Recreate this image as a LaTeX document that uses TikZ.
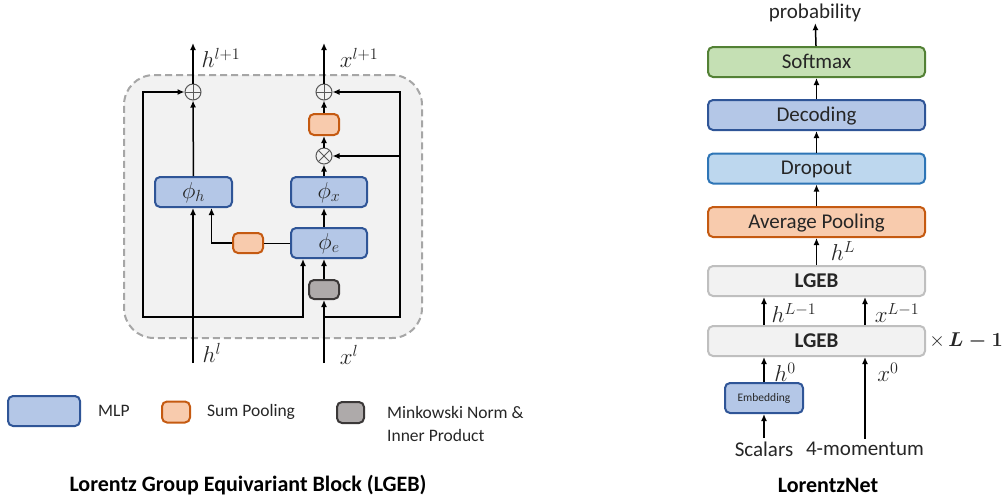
\RequirePackage{fix-cm}
\documentclass[tikz,border=0pt]{standalone}
\usepackage[no-math]{fontspec}
\usepackage{amsmath}
\setmainfont{Carlito}
\usetikzlibrary{positioning,arrows.meta}

\definecolor{mlpfill}{HTML}{B4C7E7}
\definecolor{mlpline}{HTML}{2F5597}
\definecolor{sumfill}{HTML}{F8CBAD}
\definecolor{sumline}{HTML}{C55A11}
\definecolor{normfill}{HTML}{AEAAAA}
\definecolor{normline}{HTML}{3B3838}
\definecolor{softfill}{HTML}{C5E0B4}
\definecolor{softline}{HTML}{538135}
\definecolor{dropfill}{HTML}{BDD7EE}
\definecolor{dropline}{HTML}{2E75B6}
\definecolor{lgebfill}{HTML}{F2F2F2}
\definecolor{lgebline}{HTML}{BFBFBF}
\definecolor{frameline}{HTML}{A6A6A6}
\definecolor{opline}{HTML}{595959}
\definecolor{textgray}{HTML}{262626}

\begin{document}
\begin{tikzpicture}[x=1pt, y=-1pt, font=\fontsize{21}{25}\selectfont, text=textgray]
    \tikzstyle{box} = [rectangle, rounded corners=5pt, line width=2pt, inner sep=2pt, text height=13pt, text depth=0.5pt]
    \tikzstyle{mlp} = [box, draw=mlpline, fill=mlpfill, minimum width=77pt, minimum height=30pt]
    \tikzstyle{sumbox} = [box, draw=sumline, fill=sumfill, minimum width=30pt, minimum height=21pt]
    \tikzstyle{normbox} = [box, draw=normline, fill=normfill, minimum width=30pt, minimum height=19pt]
    \tikzstyle{softbox} = [box, draw=softline, fill=softfill, minimum width=217pt, minimum height=30pt]
    \tikzstyle{dropbox} = [box, draw=dropline, fill=dropfill, minimum width=217pt, minimum height=30pt]
    \tikzstyle{lgebbox} = [box, draw=lgebline, fill=lgebfill, minimum width=217pt, minimum height=30pt]
    \tikzstyle{lgebframe} = [rectangle, rounded corners=30pt, draw=frameline, fill=lgebfill, line width=2pt, dash pattern=on 7pt off 4pt, minimum width=298pt, minimum height=263pt]
    \tikzstyle{opnode} = [circle, draw=opline, line width=1pt, minimum size=16pt, inner sep=0pt]
    \tikzstyle{addop} = [opnode, path picture={\draw[opline, line width=1pt] (path picture bounding box.north) -- (path picture bounding box.south) (path picture bounding box.west) -- (path picture bounding box.east);}]
    \tikzstyle{mulop} = [opnode, path picture={\draw[opline, line width=1pt] (path picture bounding box.north west) -- (path picture bounding box.south east) (path picture bounding box.north east) -- (path picture bounding box.south west);}]
    \tikzstyle{mathlab} = [font=\fontsize{23}{27}\selectfont]
    \tikzstyle{keytext} = [anchor=west, inner sep=0pt, font=\fontsize{17.5}{23}\selectfont]
    \tikzstyle{title} = [text=black, font=\fontsize{22}{26}\selectfont\bfseries]
    \tikzstyle{line} = [draw, line width=1.5pt, -{Latex[length=7pt, width=6pt]}]

    \useasboundingbox (0,0) rectangle (1005,499);

    % LGEB block
    \node [lgebframe] (frame) at (273,206.5) {};
    \node [addop] (hsum) at (193,92) {};
    \node [addop] (xsum) at (324,92) {};
    \node [sumbox] (xpool) at (324,124.5) {};
    \node [mulop] (xprod) at (324,156) {};
    \node [mlp, mathlab] (phih) at (193.5,192) {$\phi_h$};
    \node [mlp, mathlab, minimum width=76pt] (phix) at (329,192) {$\phi_x$};
    \node [mlp, mathlab, minimum width=76pt] (phie) at (329,243) {$\phi_e$};
    \node [sumbox, minimum height=20pt] (hpool) at (248,243) {};
    \node [normbox] (mink) at (324,289.5) {};

    \coordinate (hin) at (193,363);
    \coordinate (xin) at (324,363);
    \coordinate (hout) at (193,43);
    \coordinate (xout) at (324,43);
    \coordinate (hsplit) at (193,317);
    \coordinate (xsplit) at (324,317);
    \coordinate (lbend) at (143,317);
    \coordinate (rbend) at (400,317);

    \node [mathlab] (hlab) at (212,353) {$h^l$};
    \node [mathlab] (xlab) at (349,355) {$x^l$};
    \node [mathlab] (hnext) at (221,58) {$h^{l+1}$};
    \node [mathlab] (xnext) at (359,58) {$x^{l+1}$};

    \draw [line] (hin) -- (hin |- phih.south);
    \draw [line] (phih) -- (hsum);
    \draw [line] (hsum) -- (hout);
    \draw [line] (hsplit) -- (lbend) |- (hsum);
    \draw [line] (hsplit) -| ([xshift=-26pt]phie.south);
    \draw (phie) -- (hpool);
    \draw [line] (hpool) -| ([xshift=18pt]phih.south);

    \draw [line] (xin) -- (mink);
    \draw [line] (mink) -- (mink |- phie.south);
    \draw [line] (phie.north -| mink) -- (phix.south -| mink);
    \draw [line] (phix.north -| mink) -- (xprod);
    \draw [line] (xprod) -- (xpool);
    \draw [line] (xpool) -- (xsum);
    \draw [line] (xsum) -- (xout);
    \draw [line] (xsplit) -- (rbend) |- (xsum);
    \draw [line] (rbend |- xprod) -- (xprod);

    % legend
    \node [mlp, minimum width=72pt] (mlpkey) at (44,411) {};
    \node [keytext, right=17pt of mlpkey] (mlptext) {MLP};
    \node [sumbox, minimum width=28pt] (sumkey) at (176,412) {};
    \node [keytext, right=16pt of sumkey] (sumtext) {Sum Pooling};
    \node [normbox, minimum width=27pt, minimum height=21pt] (normkey) at (350.5,412.5) {};
    \node [keytext, align=left] (normtext) at (387,423.5) {Minkowski Norm \&\\Inner Product};

    \node [title] (lgebtitle) at (248,485) {Lorentz Group Equivariant Block (LGEB)};

    % LorentzNet
    \node [softbox] (softmax) at (816.5,62) {Softmax};
    \node [mlp, minimum width=217pt] (decoding) at (816.5,115) {Decoding};
    \node [dropbox] (dropout) at (816.5,168.5) {Dropout};
    \node [sumbox, minimum width=217pt, minimum height=30pt] (avgpool) at (816.5,222) {Average Pooling};
    \node [lgebbox] (lgebtop) at (816.5,281) {\textbf{LGEB}};
    \node [lgebbox] (lgebbot) at (816.5,341) {\textbf{LGEB}};
    \node [mlp, minimum width=78pt, font=\fontsize{11.5}{14}\selectfont, text height=7pt, text depth=0pt] (embed) at (764,398) {Embedding};
    \node [inner sep=1pt] (prob) at (815,13) {probability};
    \node (scalars) at (764,449) {Scalars};
    \node (momentum) at (865,449) {4-momentum};
    \node [font=\fontsize{20}{24}\selectfont, anchor=east, inner sep=0pt] (repeat) at (1003,341) {$\times\,\boldsymbol{L-1}$};

    \node [mathlab] (hL) at (843,251) {$h^L$};
    \node [mathlab] (hLm) at (794,313) {$h^{L-1}$};
    \node [mathlab] (xLm) at (897,313) {$x^{L-1}$};
    \node [mathlab] (hzero) at (785,372) {$h^0$};
    \node [mathlab] (xzero) at (888,372) {$x^0$};

    \draw [line] (softmax) -- (prob);
    \draw [line] (decoding) -- (softmax);
    \draw [line] (dropout) -- (decoding);
    \draw [line] (avgpool) -- (dropout);
    \draw [line] (lgebtop) -- (avgpool);
    \draw [line] (lgebbot.north -| embed) -- (lgebtop.south -| embed);
    \draw [line] (lgebbot.north -| momentum) -- (lgebtop.south -| momentum);
    \draw [line] (embed) -- (lgebbot.south -| embed);
    \draw [line] (scalars) -- (embed);
    \draw [line] (momentum) -- (lgebbot.south -| momentum);

    \node [title] (nettitle) at (828,485) {LorentzNet};
\end{tikzpicture}
\end{document}
